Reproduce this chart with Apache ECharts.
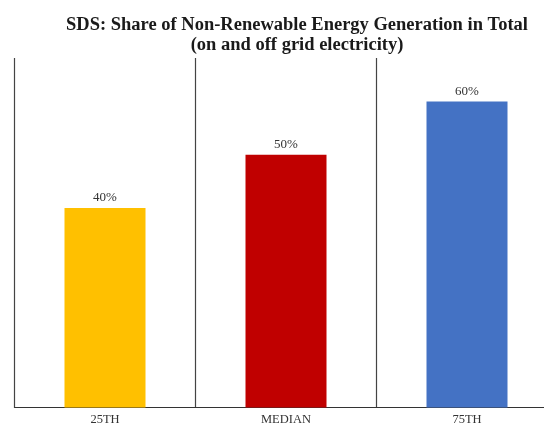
<!DOCTYPE html>
<html>
<head>
<meta charset="utf-8">
<script src="https://cdn.jsdelivr.net/npm/echarts@6/dist/echarts.min.js"></script>
<style>html,body{margin:0;padding:0;background:#fff}#c{width:544px;height:426px}</style>
</head>
<body>
<div id="c"></div>
<script>
var titleLines = ['SDS: Share of Non-Renewable Energy Generation in Total', '(on and off grid electricity)'];
var categories = ['25TH', 'MEDIAN', '75TH'];
var values = [40, 50, 60];
var barColors = ['#FFC000', '#C00000', '#4472C4'];

var chart = echarts.init(document.getElementById('c'), null, {renderer: 'canvas'});
var serif = '"Liberation Serif", "Times New Roman", serif';
chart.setOption({
  animation: false,
  backgroundColor: '#ffffff',
  title: {
    text: titleLines.join('\n'),
    left: 292,
    top: 10,
    textAlign: 'center',
    textStyle: {fontFamily: serif, fontWeight: 'bold', fontSize: 18.5, lineHeight: 20, color: '#1a1a1a'}
  },
  grid: {left: 14.5, right: -13.5, top: 58, bottom: 18.5, containLabel: false, outerBoundsMode: 'none'},
  xAxis: {
    type: 'category',
    data: categories,
    boundaryGap: true,
    axisLine: {show: true, lineStyle: {color: '#333', width: 1.2}},
    axisTick: {show: false},
    splitLine: {show: true, lineStyle: {color: '#444', width: 1.2}},
    axisLabel: {fontFamily: serif, fontSize: 12.5, color: '#333', margin: 6}
  },
  yAxis: {
    type: 'value',
    min: 2.5,
    max: 68.2,
    show: false,
    splitLine: {show: false}
  },
  series: [{
    type: 'bar',
    barWidth: 81,
    data: values.map(function (v, i) { return {value: v, itemStyle: {color: barColors[i]}}; }),
    label: {
      show: true,
      position: 'top',
      distance: 4,
      formatter: function (p) { return p.value + '%'; },
      fontFamily: serif,
      fontSize: 13,
      color: '#333'
    }
  }]
});
</script>
</body>
</html>
